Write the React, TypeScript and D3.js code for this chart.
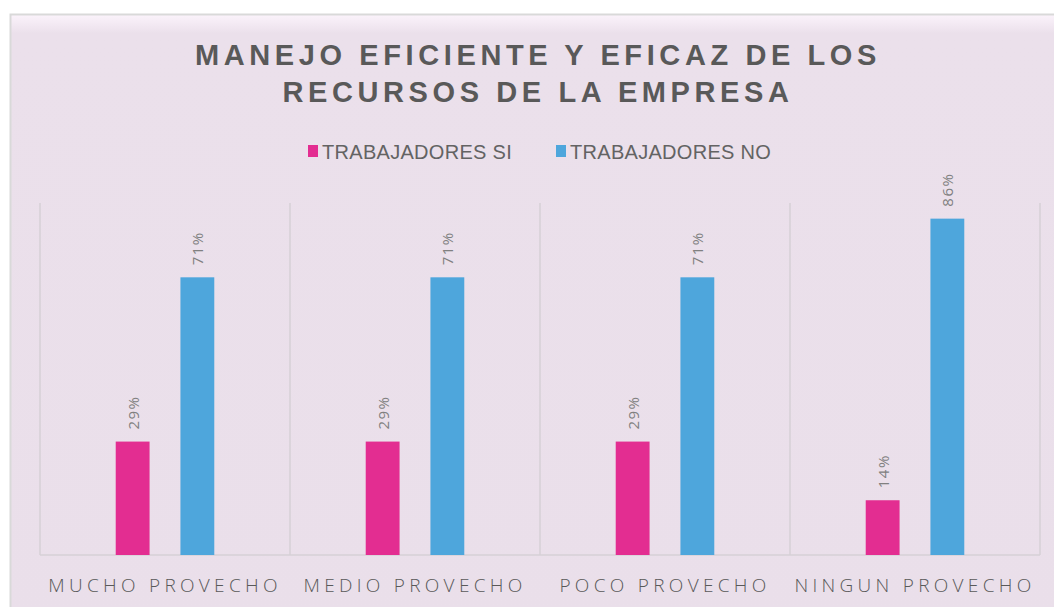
import { useMemo } from "react";
import * as d3 from "d3";

const WIDTH = 1054;
const HEIGHT = 607;
const MARGIN = { top: 203, right: 14, bottom: 52, left: 40 };

const categories = ["MUCHO PROVECHO", "MEDIO PROVECHO", "POCO PROVECHO", "NINGUN PROVECHO"];
const series = ["TRABAJADORES SI", "TRABAJADORES NO"];
const valuesSi = [0.29, 0.29, 0.29, 0.14];
const valuesNo = [0.71, 0.71, 0.71, 0.86];
const colors = ["#E32D91", "#4EA6DC"];
const titleLines = ["MANEJO EFICIENTE Y EFICAZ DE LOS", "RECURSOS DE LA EMPRESA"];

export default function App() {
  const boundsWidth = WIDTH - MARGIN.left - MARGIN.right;
  const boundsHeight = HEIGHT - MARGIN.top - MARGIN.bottom;

  const xScale = useMemo(
    () => d3.scaleBand().domain(categories).range([0, boundsWidth]).padding(0),
    [boundsWidth]
  );
  // bars inside a category: wide outer gap, smaller gap between the two bars
  const innerScale = useMemo(
    () =>
      d3
        .scaleBand()
        .domain(series)
        .range([0, xScale.bandwidth()])
        .paddingInner(0.477)
        .paddingOuter(1.17),
    [xScale]
  );
  const yScale = useMemo(
    () => d3.scaleLinear().domain([0, 0.9]).range([boundsHeight, 0]),
    [boundsHeight]
  );

  const data = [valuesSi, valuesNo];
  const fmt = d3.format(".0%");

  const bars = categories.flatMap((cat, ci) =>
    series.map((s, si) => {
      const v = data[si][ci];
      const x = (xScale(cat) ?? 0) + (innerScale(s) ?? 0);
      const y = yScale(v);
      return (
        <g key={cat + s}>
          <rect
            x={x}
            y={y}
            width={innerScale.bandwidth()}
            height={boundsHeight - y}
            fill={colors[si]}
          />
          <text
            transform={`translate(${x + innerScale.bandwidth() / 2 + 6},${y - 12}) rotate(-90)`}
            fontSize={15}
            fill="#808080"
            letterSpacing={1.5}
            fontFamily="'Open Sans', sans-serif"
          >
            {fmt(v)}
          </text>
        </g>
      );
    })
  );

  const gridLines = d3.range(categories.length + 1).map((i) => {
    const x = i * xScale.bandwidth();
    return (
      <line key={i} x1={x} x2={x} y1={0} y2={boundsHeight} stroke="#D6D0D6" strokeWidth={1.5} />
    );
  });

  const xLabels = categories.map((cat) => (
    <text
      key={cat}
      x={(xScale(cat) ?? 0) + xScale.bandwidth() / 2}
      y={boundsHeight + 37}
      textAnchor="middle"
      fontSize={19}
      fill="#595959"
      letterSpacing={4.3}
      fontFamily="'Open Sans', sans-serif"
      fontWeight={300}
    >
      {cat}
    </text>
  ));

  const legendX = [308, 556];

  return (
    <div style={{ position: "absolute", left: 0, top: 0 }}>
      <svg width={WIDTH} height={HEIGHT} style={{ display: "block" }}>
        <defs>
          <linearGradient id="bg" x1="0" y1="0" x2="0" y2="1">
            <stop offset="0" stopColor="#FBF3FB" />
            <stop offset="0.03" stopColor="#EBE0EB" />
            <stop offset="1" stopColor="#EADFEA" />
          </linearGradient>
        </defs>
        <rect width={WIDTH} height={HEIGHT} fill="#FFFFFF" />
        <rect
          x={10.5}
          y={14.5}
          width={WIDTH + 20}
          height={HEIGHT + 20}
          fill="url(#bg)"
          stroke="#D9D9D9"
          strokeWidth={2}
        />
        {titleLines.map((t, i) => (
          <text
            key={t}
            x={538}
            y={65 + i * 37}
            textAnchor="middle"
            fontSize={29}
            fontWeight="bold"
            fill="#595959"
            letterSpacing={4.6}
            fontFamily="'Liberation Sans', Arial, sans-serif"
          >
            {t}
          </text>
        ))}
        {series.map((s, i) => (
          <g key={s} transform={`translate(${legendX[i]},145)`}>
            <rect width={10} height={12} fill={colors[i]} />
            <text
              x={14}
              y={14}
              fontSize={20}
              fill="#636363"
              fontFamily="'Liberation Sans', Arial, sans-serif"
              letterSpacing={0.3}
            >
              {s}
            </text>
          </g>
        ))}
        <g transform={`translate(${MARGIN.left},${MARGIN.top})`}>
          {gridLines}
          <line x1={0} x2={boundsWidth} y1={boundsHeight} y2={boundsHeight} stroke="#D6D0D6" strokeWidth={1.5} />
          {bars}
          {xLabels}
        </g>
      </svg>
    </div>
  );
}
